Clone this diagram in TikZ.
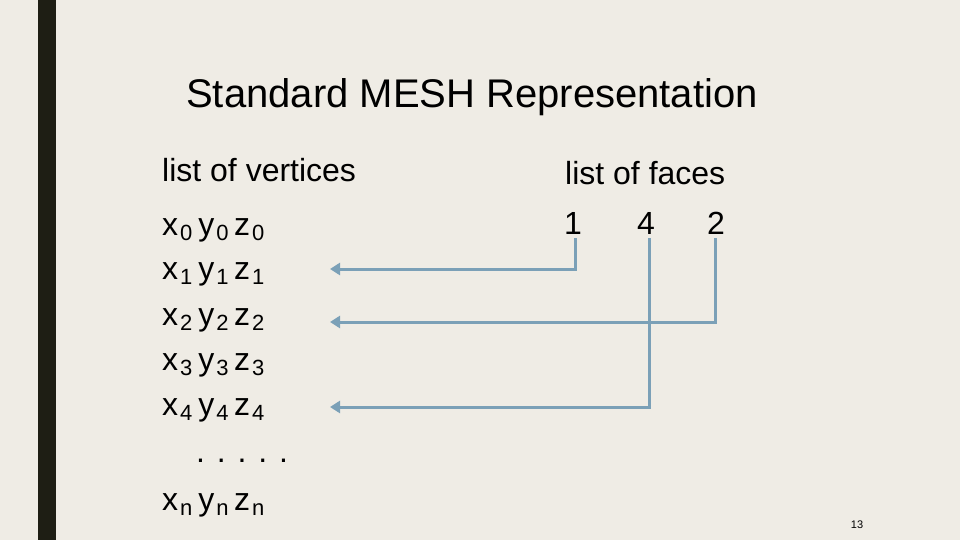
\documentclass[tikz,border=0pt]{standalone}
\usepackage{fontspec}
\setmainfont{Liberation Sans}
\usetikzlibrary{arrows.meta, positioning}
\definecolor{paper}{RGB}{239,236,229}
\definecolor{darkbar}{RGB}{30,30,20}
\definecolor{linkblue}{RGB}{123,160,183}
\newcommand{\ssb}[1]{\hspace{2pt}\raisebox{-0.3ex}{\fontsize{22}{22}\selectfont #1}}
\tikzset{
    rowtext/.style={anchor=base west, inner sep=0pt, font=\fontsize{32}{32}\selectfont},
    facetext/.style={anchor=base, inner sep=0pt, font=\fontsize{32}{32}\selectfont},
    link/.style={line width=3pt, linkblue, -{Triangle[length=10pt, width=12pt]}}
}
\begin{document}
\begin{tikzpicture}[x=1pt, y=-1pt]
    % Background
    \fill[paper] (0,0) rectangle (960,540);
    \useasboundingbox (0,0) rectangle (960,540);
    \fill[darkbar] (38,0) rectangle (56,540);

    % Title
    \node[anchor=base, inner sep=0pt, font=\fontsize{40}{40}\selectfont] (title) at (472,108) {Standard MESH Representation};

    % Headings
    \node[rowtext] (vhead) at (162,182) {list of vertices};
    \node[rowtext] (fhead) at (565,184) {list of faces};

    % Vertices
    \node[rowtext] (v0) at (162,235) {x\ssb{0}\hspace{6pt}y\ssb{0}\,z\ssb{0}};
    \node[rowtext] (v1) at (162,279) {x\ssb{1}\hspace{6pt}y\ssb{1}\,z\ssb{1}};
    \node[rowtext] (v2) at (162,325) {x\ssb{2}\hspace{6pt}y\ssb{2}\,z\ssb{2}};
    \node[rowtext] (v3) at (162,370) {x\ssb{3}\hspace{6pt}y\ssb{3}\,z\ssb{3}};
    \node[rowtext] (v4) at (162,415) {x\ssb{4}\hspace{6pt}y\ssb{4}\,z\ssb{4}};
    \node[rowtext] (vdots) at (196,462) {. . . . .};
    \node[rowtext] (vn) at (162,510) {x\ssb{n}\hspace{6pt}y\ssb{n}\,z\ssb{n}};

    % Faces
    \node[facetext] (f1) at (573,234) {1};
    \node[facetext] (f4) at (646,234) {4};
    \node[facetext] (f2) at (716,234) {2};

    % Links
    \coordinate (e1) at (330,269);
    \coordinate (e2) at (330,322);
    \coordinate (e4) at (330,407);
    \draw[link] (575,238) |- (e1);
    \draw[link] (715,238) |- (e2);
    \draw[link] (649,238) |- (e4);

    % Page number
    \node[inner sep=0pt, font=\fontsize{11}{11}\selectfont] (page) at (857,525) {13};
\end{tikzpicture}
\end{document}
